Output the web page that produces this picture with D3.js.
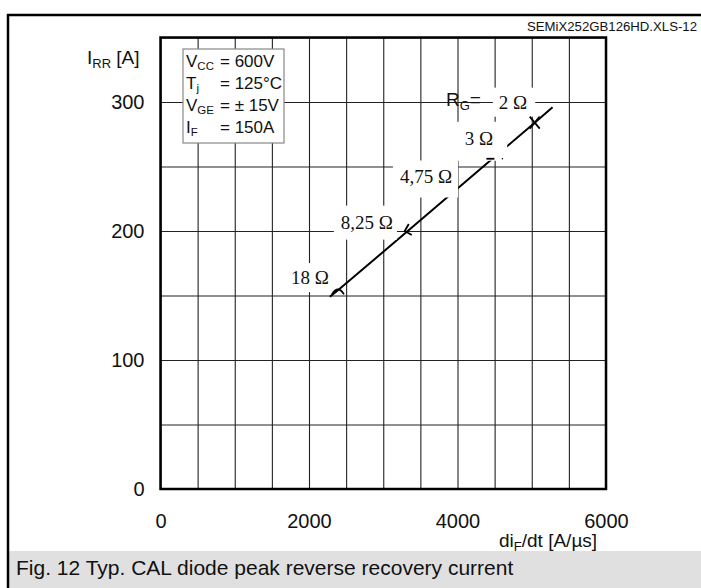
<!DOCTYPE html>
<html><head><meta charset="utf-8">
<script src="https://cdn.jsdelivr.net/npm/d3@7"></script>
<style>body{margin:0;background:#fff}svg{display:block}</style>
</head><body>
<script>
// ---- data ----
const xTicks = [0, 2000, 4000, 6000];
const yTicks = [0, 100, 200, 300];
const xGrid = [0,500,1000,1500,2000,2500,3000,3500,4000,4500,5000,5500,6000];
const yGrid = [0,50,100,150,200,250,300,350];
const curveX = [2280, 2390, 3330, 4470, 5040, 5280];
const curveY = [149, 154, 200, 256, 284, 296];
const rgLabels = ["18 Ω", "8,25 Ω", "4,75 Ω", "3 Ω", "2 Ω"];
const rgMarkX = [2390, 3330, 3960, 4470, 5040];
const rgMarkY = [154, 200, 230, 256, 284];
const rgLabelX = [2013, 2780, 3576, 4290, 4748];
const rgLabelY = [164, 207, 242, 272, 300];
const condNames = [["V","CC"],["T","j"],["V","GE"],["I","F"]];
const condVals = ["= 600V", "= 125\u00B0C", "= \u00B1 15V", "= 150A"];

const W = 701, H = 588;
const FONT = "'Liberation Sans', Arial, sans-serif";
const SERIF = "'Liberation Serif', 'Times New Roman', serif";
const svg = d3.select("body").append("svg").attr("width", W).attr("height", H)
  .style("font-family", FONT);

const x = d3.scaleLinear().domain([0, 6000]).range([160.5, 606]);
const y = d3.scaleLinear().domain([0, 350]).range([489, 37.5]);

// outer frame & caption band
svg.append("rect").attr("x", 9).attr("y", 551).attr("width", W - 9).attr("height", H - 551).attr("fill", "#e0e0e0");
svg.append("line").attr("x1", 8).attr("x2", 8).attr("y1", 14).attr("y2", H).attr("stroke", "#000").attr("stroke-width", 2.5);
svg.append("line").attr("x1", 7).attr("x2", W).attr("y1", 15).attr("y2", 15).attr("stroke", "#000").attr("stroke-width", 2.5);
svg.append("text").attr("x", 16).attr("y", 575).attr("font-size", 21).attr("fill", "#111")
  .text("Fig. 12 Typ. CAL diode peak reverse recovery current");
svg.append("text").attr("x", 697).attr("y", 31).attr("text-anchor", "end").attr("font-size", 13.2).attr("fill", "#111")
  .text("SEMiX252GB126HD.XLS-12");

// grid
const g = svg.append("g");
g.append("g").attr("transform", `translate(0,${y(0)})`)
  .call(d3.axisBottom(x).tickValues(xGrid).tickSize(-(y(0) - y(350))).tickFormat(""))
  .call(s => s.select(".domain").remove())
  .call(s => s.selectAll("line").attr("stroke", "#222").attr("stroke-width", 1.1));
g.append("g").attr("transform", `translate(${x(0)},0)`)
  .call(d3.axisLeft(y).tickValues(yGrid).tickSize(-(x(6000) - x(0))).tickFormat(""))
  .call(s => s.select(".domain").remove())
  .call(s => s.selectAll("line").attr("stroke", "#222").attr("stroke-width", 1.1));

// tick labels
svg.append("g").attr("transform", `translate(0,${y(0)})`)
  .call(d3.axisBottom(x).tickValues(xTicks).tickSize(0).tickPadding(25).tickFormat(d3.format("d")))
  .call(s => s.select(".domain").remove())
  .call(s => s.selectAll("text").attr("font-size", 20).attr("font-family", FONT).attr("fill", "#111"));
svg.append("g").attr("transform", `translate(${x(0)},0)`)
  .call(d3.axisLeft(y).tickValues(yTicks).tickSize(0).tickPadding(16).tickFormat(d3.format("d")))
  .call(s => s.select(".domain").remove())
  .call(s => s.selectAll("text").attr("font-size", 20).attr("font-family", FONT).attr("fill", "#111"));

// axis titles
const yt = svg.append("text").attr("x", 87).attr("y", 64).attr("font-size", 19).attr("fill", "#111");
yt.append("tspan").text("I");
yt.append("tspan").attr("font-size", 13).attr("dy", 4).text("RR");
yt.append("tspan").attr("dy", -4).text(" [A]");
const xt = svg.append("text").attr("x", 499).attr("y", 547).attr("font-size", 19).attr("fill", "#111");
xt.append("tspan").text("di");
xt.append("tspan").attr("font-size", 13).attr("dy", 4).text("F");
xt.append("tspan").attr("dy", -4).text("/dt [A/\u00B5s]");

// curve
const line = d3.line().x(d => x(d[0])).y(d => y(d[1]));
svg.append("path").datum(curveX.map((v, i) => [v, curveY[i]]))
  .attr("d", line).attr("fill", "none").attr("stroke", "#000").attr("stroke-width", 2);

// RG label backgrounds (padding: left, top, right, bottom)
const pads = [[6,4,6,4],[7,6,4,7],[7,6,6,10],[8,6,14,12],[6,4,8,4]];
const lg = svg.append("g");
rgLabels.forEach((t, i) => {
  const r = lg.append("rect").attr("fill", "#fff");
  const tx = svg.append("text").attr("x", x(rgLabelX[i])).attr("y", y(rgLabelY[i])).attr("dy", "0.35em")
    .attr("text-anchor", "middle").attr("font-family", SERIF)
    .attr("font-size", 19).attr("fill", "#111").text(t);
  const b = tx.node().getBBox();
  const p = pads[i];
  r.attr("x", b.x - p[0]).attr("y", b.y - p[1]).attr("width", b.width + p[0] + p[2]).attr("height", b.height + p[1] + p[3]);
});

// markers
const mk = svg.append("g").attr("fill", "none").attr("stroke", "#000").attr("stroke-width", 1.8);
{
  const px = rgMarkX.map(x), py = rgMarkY.map(y);
  mk.append("path").attr("d", `M${px[0]-6},${py[0]+4} Q${px[0]},${py[0]-6} ${px[0]+6},${py[0]+4}`);
  mk.append("path").attr("d", `M${px[1]+1},${py[1]-7} L${px[1]-3},${py[1]} L${px[1]+4},${py[1]+4}`);
  mk.append("path").attr("d", `M${px[3]-6},${py[3]} L${px[3]+2},${py[3]}`);
  mk.append("circle").attr("cx", px[3] + 10).attr("cy", py[3]).attr("r", 0.8).attr("fill", "#000").attr("stroke", "none");
  mk.append("path").attr("d", `M${px[4]-5},${py[4]-6} L${px[4]+5},${py[4]+6} M${px[4]-5},${py[4]+6} L${px[4]+5},${py[4]-6}`);
}
svg.selectAll("text").raise();

const rg = svg.append("text").attr("x", 446).attr("y", 106).attr("font-size", 19).attr("fill", "#111");
rg.append("tspan").text("R");
rg.append("tspan").attr("font-size", 13).attr("dy", 4).text("G");
rg.append("tspan").attr("dy", -4).text("=");

// conditions box
svg.append("rect").attr("x", 183).attr("y", 49).attr("width", 101).attr("height", 94)
  .attr("fill", "#fff").attr("stroke", "#888").attr("stroke-width", 1.2);
condNames.forEach((n, i) => {
  const t = svg.append("text").attr("x", 186).attr("y", 67 + i * 22).attr("font-size", 17).attr("fill", "#111");
  t.append("tspan").text(n[0]);
  t.append("tspan").attr("font-size", 11.5).attr("dy", 3).text(n[1]);
  svg.append("text").attr("x", 220).attr("y", 67 + i * 22).attr("font-size", 17).attr("fill", "#111").text(condVals[i]);
});

// plot border
svg.append("rect").attr("x", x(0)).attr("y", y(350)).attr("width", x(6000) - x(0)).attr("height", y(0) - y(350))
  .attr("fill", "none").attr("stroke", "#000").attr("stroke-width", 2.5);
</script>
</body></html>
